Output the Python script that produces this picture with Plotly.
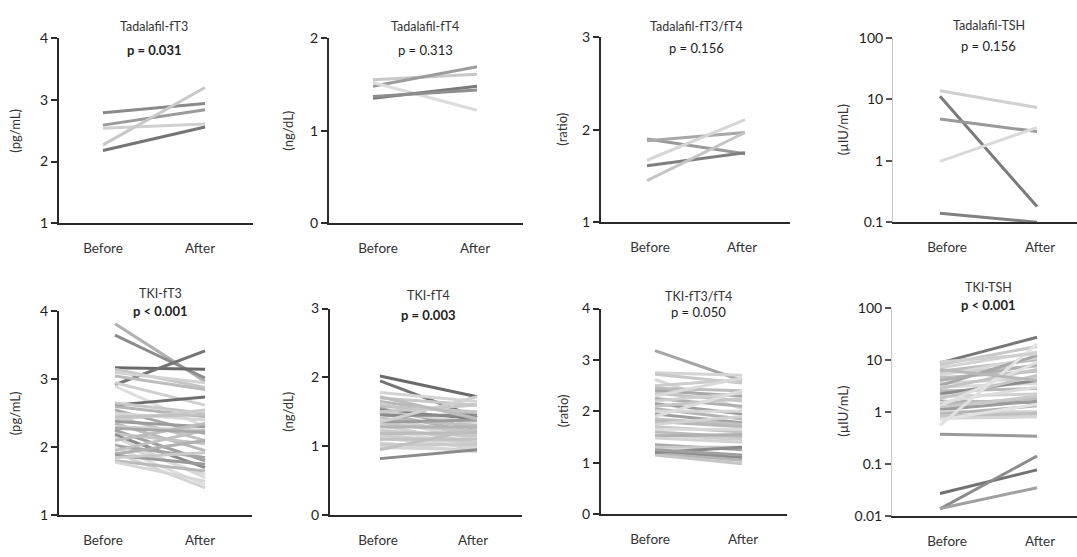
import plotly.graph_objects as go

# ---------------- data ----------------
categories = ["Before", "After"]

tada_ft3_before = [2.79, 2.59, 2.54, 2.27, 2.18]
tada_ft3_after = [2.94, 2.84, 2.61, 3.20, 2.56]

tada_ft4_before = [1.55, 1.48, 1.52, 1.35, 1.37]
tada_ft4_after = [1.61, 1.69, 1.22, 1.48, 1.44]

tada_ratio_before = [1.90, 1.88, 1.61, 1.67, 1.45]
tada_ratio_after = [1.74, 1.97, 1.75, 2.11, 1.97]

tada_tsh_before = [13.9, 11.3, 4.8, 0.98, 0.14]
tada_tsh_after = [7.4, 0.18, 3.0, 3.5, 0.10]

tki_ft3_before = [3.82, 3.65, 3.17, 2.92, 3.15, 3.10, 3.05, 2.95, 2.90, 2.62, 2.65, 2.60,
                  2.55, 2.50, 2.45, 2.40, 2.38, 2.35, 2.30, 2.25, 2.20, 2.18, 2.15, 2.10,
                  2.05, 2.02, 2.00, 1.95, 1.92, 1.90, 1.88, 1.85, 1.80, 1.78, 2.45, 2.28]
tki_ft3_after = [2.97, 3.02, 3.15, 3.42, 2.88, 2.95, 2.85, 2.62, 2.30, 2.74, 2.50, 2.45,
                 2.20, 2.40, 2.10, 2.55, 2.30, 1.95, 2.25, 1.80, 2.05, 1.70, 1.55, 2.35,
                 1.60, 1.85, 1.45, 2.25, 1.40, 2.10, 1.75, 1.92, 1.65, 1.50, 2.48, 2.22]

tki_ft4_before = [2.02, 1.95, 1.78, 1.70, 1.65, 1.62, 1.58, 1.55, 1.52, 1.50, 1.48, 1.45,
                  1.42, 1.40, 1.38, 1.35, 1.32, 1.30, 1.28, 1.25, 1.22, 1.20, 1.18, 1.15,
                  1.12, 1.10, 1.05, 1.02, 0.98, 0.95, 0.82, 1.35, 1.50, 1.72]
tki_ft4_after = [1.72, 1.42, 1.65, 1.60, 1.45, 1.30, 1.50, 1.25, 1.40, 1.35, 1.20, 1.45,
                 1.15, 1.30, 1.10, 1.38, 1.22, 1.05, 1.28, 1.00, 1.15, 0.95, 1.20, 1.05,
                 0.98, 1.10, 0.92, 1.02, 0.95, 1.25, 0.95, 1.72, 1.60, 1.40]

tki_ratio_before = [3.18, 2.75, 2.72, 2.62, 2.50, 2.45, 2.40, 2.35, 2.30, 2.25, 2.20, 2.15,
                    2.10, 2.05, 2.00, 1.95, 1.90, 1.85, 1.80, 1.75, 1.70, 1.65, 1.60, 1.55,
                    1.52, 1.48, 1.35, 1.30, 1.22, 1.18, 1.15, 1.20, 1.25]
tki_ratio_after = [2.60, 2.70, 2.55, 2.05, 2.62, 2.40, 2.30, 2.20, 2.65, 2.10, 2.35, 1.95,
                   2.25, 1.85, 2.00, 1.78, 2.40, 1.75, 1.70, 1.90, 1.60, 1.65, 1.50, 1.45,
                   1.55, 1.40, 1.25, 1.30, 1.10, 1.05, 0.98, 1.30, 1.15]

tki_tsh_before = [8.7, 8.0, 7.0, 6.0, 5.5, 5.0, 4.5, 4.0, 3.5, 3.2, 3.0, 2.8, 2.5, 2.2,
                  2.0, 1.8, 1.6, 1.5, 1.4, 1.3, 1.2, 1.1, 1.0, 0.9, 0.85, 0.8, 0.75, 0.7,
                  0.55, 0.37, 0.027, 0.0137, 0.014, 9.0, 6.5]
tki_tsh_after = [27.0, 18.0, 14.0, 10.0, 7.5, 11.0, 6.0, 8.0, 4.5, 12.0, 3.5, 6.5, 2.8, 4.0,
                 2.2, 5.0, 1.5, 3.0, 1.8, 9.0, 2.0, 1.6, 1.0, 1.3, 0.85, 0.95, 0.8, 1.4,
                 20.0, 0.34, 0.077, 0.142, 0.035, 13.0, 4.0]

titles = ["Tadalafil-fT3", "Tadalafil-fT4", "Tadalafil-fT3/fT4", "Tadalafil-TSH",
          "TKI-fT3", "TKI-fT4", "TKI-fT3/fT4", "TKI-TSH"]
pvalues = ["p = 0.031", "p = 0.313", "p = 0.156", "p = 0.156",
           "p < 0.001", "p = 0.003", "p = 0.050", "p < 0.001"]
p_bold = [True, False, False, False, True, True, False, True]
units = ["(pg/mL)", "(ng/dL)", "(ratio)", "(µIU/mL)",
         "(pg/mL)", "(ng/dL)", "(ratio)", "(µIU/mL)"]

lin_ticks = [[1, 2, 3, 4], [0, 1, 2], [1, 2, 3], None,
             [1, 2, 3, 4], [0, 1, 2, 3], [0, 1, 2, 3, 4], None]
log_ticks_top = [0.1, 1, 10, 100]
log_ticks_top_text = ["0.1", "1", "10", "100"]
log_ticks_bot = [0.01, 0.1, 1, 10, 100]
log_ticks_bot_text = ["0.01", "0.1", "1", "10", "100"]

panels = [
    (tada_ft3_before, tada_ft3_after), (tada_ft4_before, tada_ft4_after),
    (tada_ratio_before, tada_ratio_after), (tada_tsh_before, tada_tsh_after),
    (tki_ft3_before, tki_ft3_after), (tki_ft4_before, tki_ft4_after),
    (tki_ratio_before, tki_ratio_after), (tki_tsh_before, tki_tsh_after),
]

# ---------------- styling ----------------
line_colors = [
    ["#8a8a8a", "#9a9a9a", "#d0d0d0", "#c8c8c8", "#757575"],
    ["#c8c8c8", "#9c9c9c", "#dcdcdc", "#7a7a7a", "#8e8e8e"],
    ["#9a9a9a", "#a8a8a8", "#7e7e7e", "#d6d6d6", "#c4c4c4"],
    ["#cfcfcf", "#7a7a7a", "#999999", "#dadada", "#808080"],
    ["#b0b0b0", "#8c8c8c", "#6a6a6a", "#747474", "#c6c6c6", "#d2d2d2", "#bcbcbc", "#cfcfcf",
     "#dddddd", "#6e6e6e", "#c8c8c8", "#b4b4b4", "#a8a8a8", "#d6d6d6", "#c0c0c0", "#cccccc",
     "#9c9c9c", "#b8b8b8", "#d0d0d0", "#a0a0a0", "#c4c4c4", "#8a8a8a", "#d8d8d8", "#bcbcbc",
     "#dadada", "#a4a4a4", "#dedede", "#c0c0c0", "#d4d4d4", "#b0b0b0", "#9a9a9a", "#cacaca",
     "#bababa", "#d6d6d6", "#c2c2c2", "#a8a8a8"],
    ["#6a6a6a", "#747474", "#d4d4d4", "#c8c8c8", "#b8b8b8", "#d0d0d0", "#c4c4c4", "#a0a0a0",
     "#7c7c7c", "#d8d8d8", "#b0b0b0", "#8a8a8a", "#cccccc", "#c0c0c0", "#dadada", "#9c9c9c",
     "#c6c6c6", "#d2d2d2", "#b4b4b4", "#dcdcdc", "#c8c8c8", "#d6d6d6", "#bcbcbc", "#cecece",
     "#d8d8d8", "#c2c2c2", "#dadada", "#cacaca", "#d4d4d4", "#c0c0c0", "#8a8a8a", "#d0d0d0",
     "#c8c8c8", "#bcbcbc"],
    ["#a4a4a4", "#d4d4d4", "#c8c8c8", "#d8d8d8", "#cccccc", "#bcbcbc", "#a8a8a8", "#c4c4c4",
     "#dadada", "#b0b0b0", "#d0d0d0", "#9c9c9c", "#c6c6c6", "#b4b4b4", "#d6d6d6", "#a0a0a0",
     "#dcdcdc", "#c0c0c0", "#b8b8b8", "#d2d2d2", "#c4c4c4", "#dadada", "#bcbcbc", "#cecece",
     "#b0b0b0", "#d4d4d4", "#a4a4a4", "#c8c8c8", "#8c8c8c", "#b4b4b4", "#c6c6c6", "#8a8a8a",
     "#a0a0a0"],
    ["#767676", "#c8c8c8", "#d4d4d4", "#bcbcbc", "#cccccc", "#d8d8d8", "#c0c0c0", "#b0b0b0",
     "#d2d2d2", "#a8a8a8", "#dadada", "#c4c4c4", "#b8b8b8", "#8c8c8c", "#d0d0d0", "#c6c6c6",
     "#a4a4a4", "#dcdcdc", "#bcbcbc", "#e0e0e0", "#c8c8c8", "#9c9c9c", "#d4d4d4", "#b4b4b4",
     "#cccccc", "#c0c0c0", "#d6d6d6", "#e2e2e2", "#e2e2e2", "#9a9a9a", "#727272", "#8c8c8c",
     "#a0a0a0", "#d0d0d0", "#b8b8b8"],
]

# ---------------- layout geometry (pixels) ----------------
W, H = 1077, 557
boxes = [(59, 253, 30, 221), (329, 523, 30, 221), (601, 790, 29, 220), (893, 1077, 30, 220),
         (59, 252, 312, 522), (330, 522, 309, 522), (601, 787, 309, 521), (892, 1077, 308, 523)]
line_px = [(103, 205), (373, 477), (647, 745), (940, 1037),
           (115, 205), (380, 477), (655, 742), (940, 1037)]
label_px = [(103, 200), (378, 475), (650, 742), (947, 1040),
            (103, 200), (378, 473), (650, 743), (947, 1040)]
yranges = [[1, 4], [0, 2], [1, 3], [-1, 2], [1, 4], [0, 3], [0, 4], [-2, 2]]
is_log = [False, False, False, True, False, False, False, True]
title_y = [18, 18, 18, 17, 293, 296, 297, 287]
p_y = [42, 42, 40, 38, 312, 316, 313, 305]
unit_x = [15, 288, 562, 843, 15, 288, 563, 843]

FONT = "Lato, 'Open Sans', sans-serif"
fig = go.Figure()
annotations = []

for i, (bef, aft) in enumerate(panels):
    n = i + 1
    xa = "x" if n == 1 else f"x{n}"
    ya = "y" if n == 1 else f"y{n}"
    for j, (b, a) in enumerate(zip(bef, aft)):
        fig.add_trace(go.Scatter(x=[0, 1], y=[b, a], mode="lines",
                                 line=dict(color=line_colors[i][j], width=3),
                                 xaxis=xa, yaxis=ya, showlegend=False, hoverinfo="skip"))
    l, r, t, btm = boxes[i]
    p0, p1 = line_px[i]
    sp = p1 - p0
    xrange = [(l - p0) / sp, (r - p0) / sp]
    tv = [(label_px[i][0] - p0) / sp, (label_px[i][1] - p0) / sp]
    xkey = "xaxis" if n == 1 else f"xaxis{n}"
    ykey = "yaxis" if n == 1 else f"yaxis{n}"
    fig.layout[xkey] = dict(domain=[l / W, r / W], range=xrange, anchor=ya,
                            showgrid=False, zeroline=False, showline=True,
                            linecolor="#2a2a2a", linewidth=2,
                            tickvals=tv, ticktext=categories,
                            ticks="outside", ticklen=12, tickcolor="rgba(0,0,0,0)",
                            tickfont=dict(family=FONT, size=13.5, color="#333"),
                            fixedrange=True)
    ydict = dict(domain=[1 - btm / H, 1 - t / H], anchor=xa, range=yranges[i],
                 showgrid=False, zeroline=False, showline=True,
                 ticks="outside", ticklen=6, tickwidth=1.5,
                 tickfont=dict(family=FONT, size=14, color="#222"), fixedrange=True)
    if is_log[i]:
        ydict.update(type="log", linecolor="#c8c8c8", linewidth=1, tickcolor="#555",
                     tickvals=log_ticks_top if i == 3 else log_ticks_bot,
                     ticktext=log_ticks_top_text if i == 3 else log_ticks_bot_text)
    else:
        ydict.update(linecolor="#2a2a2a", linewidth=2, tickcolor="#2a2a2a",
                     tickvals=lin_ticks[i])
    fig.layout[ykey] = ydict

    annotations.append(dict(x=0.5, xref=xa, y=1 - title_y[i] / H, yref="paper",
                            text=titles[i], showarrow=False, xanchor="center", yanchor="middle",
                            font=dict(family=FONT, size=12.5, color="#333")))
    ptxt = f"<b>{pvalues[i]}</b>" if p_bold[i] else pvalues[i]
    annotations.append(dict(x=0.5, xref=xa, y=1 - p_y[i] / H, yref="paper",
                            text=ptxt, showarrow=False, xanchor="center", yanchor="middle",
                            font=dict(family=FONT, size=13, color="#222")))
    annotations.append(dict(x=unit_x[i] / W, xref="paper", y=1 - (t + btm) / 2 / H, yref="paper",
                            text=units[i], showarrow=False, textangle=-90,
                            xanchor="center", yanchor="middle",
                            font=dict(family=FONT, size=13, color="#333")))

fig.update_layout(width=W, height=H, margin=dict(l=0, r=0, t=0, b=0),
                  paper_bgcolor="white", plot_bgcolor="white",
                  annotations=annotations, showlegend=False)

fig.write_html("out.html")
